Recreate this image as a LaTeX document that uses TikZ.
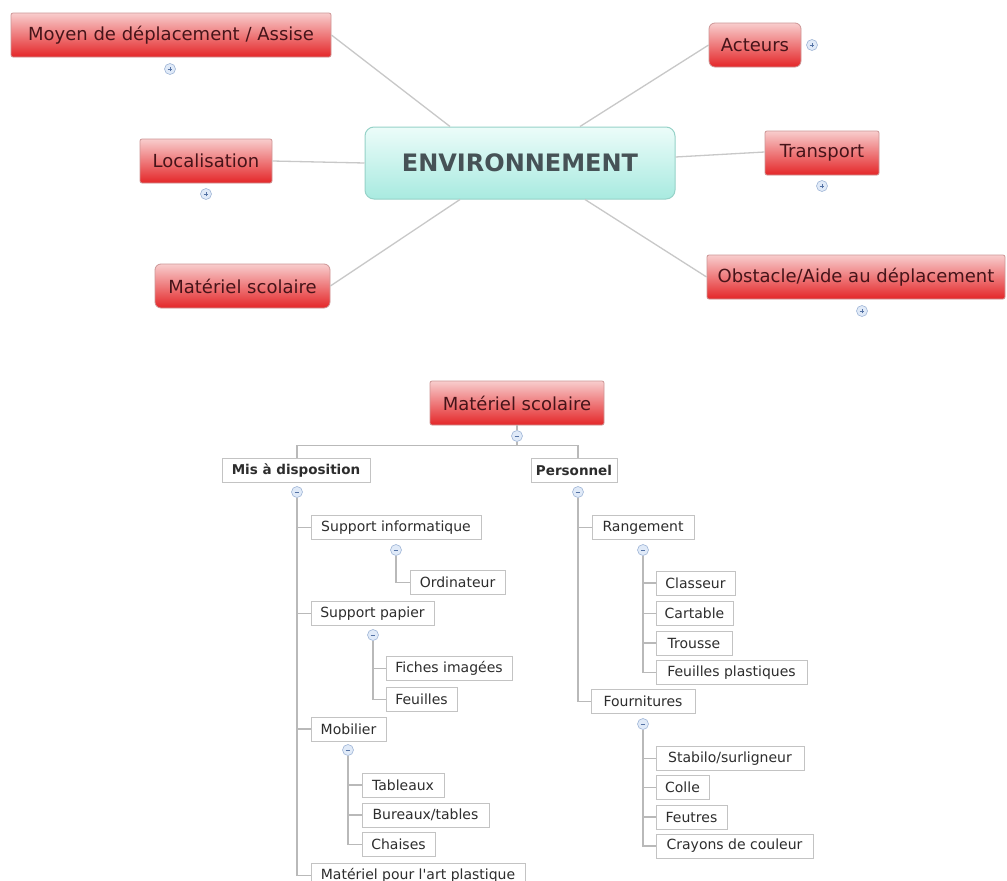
\documentclass[tikz,border=0pt]{standalone}
\usepackage{fontspec}
\setmainfont{DejaVu Sans}
\definecolor{redtop}{RGB}{248,205,205}
\definecolor{redbot}{RGB}{228,38,40}
\definecolor{redline}{RGB}{205,150,150}
\definecolor{redtext}{RGB}{70,20,25}
\definecolor{teatop}{RGB}{236,252,249}
\definecolor{teabot}{RGB}{168,234,224}
\definecolor{tealine}{RGB}{150,210,200}
\definecolor{envtext}{RGB}{70,82,86}
\definecolor{conn}{RGB}{200,200,200}
\definecolor{treeline}{RGB}{185,185,185}
\definecolor{treeborder}{RGB}{195,195,195}
\definecolor{treetext}{RGB}{45,45,45}
\definecolor{tglfill}{RGB}{224,234,248}
\definecolor{tgldraw}{RGB}{160,182,215}
\definecolor{tglsym}{RGB}{85,115,165}
\tikzset{
  redbox/.style={draw=redline, top color=redtop, bottom color=redbot, text=redtext,
    font=\fontsize{18}{18}\selectfont, inner sep=0pt, rounded corners=2pt, line width=0.8pt},
  envbox/.style={draw=tealine, top color=teatop, bottom color=teabot, text=envtext,
    font=\fontsize{24}{24}\selectfont\bfseries, inner sep=0pt, rounded corners=9pt, line width=1pt,
    minimum width=310pt, minimum height=72pt},
  treebox/.style={draw=treeborder, fill=white, text=treetext, font=\fontsize{14}{14}\selectfont,
    inner sep=0pt, minimum height=24pt, line width=0.8pt},
  boldbox/.style={treebox, font=\fontsize{13.5}{13.5}\selectfont\bfseries},
  tgl/.style={circle, draw=tgldraw, fill=tglfill, minimum size=11pt, inner sep=0pt, line width=0.6pt},
  conline/.style={draw=conn, line width=1.3pt},
  tline/.style={draw=treeline, line width=1.1pt},
}
\newcommand{\plussym}[1]{\draw[tglsym, line width=0.6pt] ([xshift=-2.4pt]#1.center) -- ([xshift=2.4pt]#1.center) ([yshift=-2.4pt]#1.center) -- ([yshift=2.4pt]#1.center);}
\newcommand{\minussym}[1]{\draw[tglsym, line width=0.6pt] ([xshift=-2.4pt]#1.center) -- ([xshift=2.4pt]#1.center);}
\begin{document}
\begin{tikzpicture}[x=1pt,y=-1pt]
\useasboundingbox[fill=white] (0,0) rectangle (1007,881);
% ---------- top mind map ----------
\node[envbox] (env) at (520,163) {ENVIRONNEMENT};
\node[redbox, minimum width=320pt, minimum height=44pt] (moyen) at (171,35) {Moyen de déplacement / Assise};
\node[redbox, rounded corners=6pt, minimum width=92pt, minimum height=44pt] (act) at (755,45) {Acteurs};
\node[redbox, minimum width=132pt, minimum height=44pt] (loc) at (206,161) {Localisation};
\node[redbox, minimum width=114pt, minimum height=44pt] (trans) at (822,153) {Transport};
\node[redbox, rounded corners=6pt, minimum width=175pt, minimum height=44pt] (matt) at (242.5,286) {Matériel scolaire};
\node[redbox, minimum width=298pt, minimum height=44pt] (obst) at (856,277) {Obstacle/Aide au déplacement};
\path[conline] (moyen.east) -- ([xshift=-70pt]env.north);
\path[conline] (act.west) -- ([xshift=60pt]env.north);
\path[conline] (loc.east) -- (env.west);
\path[conline] ([yshift=6pt]env.east) -- ([yshift=1pt]trans.west);
\path[conline] (matt.east) -- ([xshift=-60pt]env.south);
\path[conline] (obst.west) -- ([xshift=65pt]env.south);
\node[tgl] (pm) at (170,69) {}; \plussym{pm}
\node[tgl] (pa) at (812,45) {}; \plussym{pa}
\node[tgl] (pl) at (206,194) {}; \plussym{pl}
\node[tgl] (pt) at (822,186) {}; \plussym{pt}
\node[tgl] (po) at (862,311) {}; \plussym{po}
% ---------- bottom tree ----------
\node[redbox, minimum width=174pt, minimum height=44pt] (matb) at (517,403) {Matériel scolaire};
\node[boldbox, minimum width=148pt] (mis) at (296,470.5) {Mis à disposition};
\node[boldbox, minimum width=86pt] (pers) at (574,470.5) {Personnel};
\node[tgl] (m0) at (517,436) {};
\node[tgl] (m1) at (297,492) {};
\node[tgl] (m2) at (578,492) {};
% left branch
\node[treebox, minimum width=170pt] (si) at (396,527.5) {Support informatique};
\node[treebox, minimum width=95pt] (ordi) at (457.5,582.5) {Ordinateur};
\node[treebox, minimum width=123pt] (sp) at (372.5,613.5) {Support papier};
\node[treebox, minimum width=126pt] (fich) at (449,668.5) {Fiches imagées};
\node[treebox, minimum width=71pt] (feu) at (421.5,699.5) {Feuilles};
\node[treebox, minimum width=75pt] (mob) at (348.5,729) {Mobilier};
\node[treebox, minimum width=82pt] (tab) at (403,785) {Tableaux};
\node[treebox, minimum width=127pt] (bur) at (425.5,815) {Bureaux/tables};
\node[treebox, minimum width=73pt] (chai) at (398.5,844.5) {Chaises};
\node[treebox, minimum width=214pt] (art) at (418,875.5) {Matériel pour l\textquotesingle art plastique};
\node[tgl] (m3) at (396,550) {};
\node[tgl] (m4) at (373,635) {};
\node[tgl] (m5) at (348,750) {};
% right branch
\node[treebox, minimum width=102pt] (rang) at (643,527.5) {Rangement};
\node[treebox, minimum width=79pt] (clas) at (695.5,583) {Classeur};
\node[treebox, minimum width=77pt] (cart) at (694.5,613.5) {Cartable};
\node[treebox, minimum width=76pt] (trou) at (694,643) {Trousse};
\node[treebox, minimum width=151pt] (fpl) at (731.5,672.5) {Feuilles plastiques};
\node[treebox, minimum width=104pt] (four) at (643,701.5) {Fournitures};
\node[treebox, minimum width=148pt] (stab) at (730,758.5) {Stabilo/surligneur};
\node[treebox, minimum width=53pt] (coll) at (682.5,787.5) {Colle};
\node[treebox, minimum width=71pt] (feut) at (691.5,817) {Feutres};
\node[treebox, minimum width=157pt] (cray) at (734.5,846) {Crayons de couleur};
\node[tgl] (m6) at (643,550) {};
\node[tgl] (m7) at (643,724) {};
% connectors
\path[tline] (matb.south) -- (m0.north);
\path[tline] (m0.south) -- ++(0,4) -| ([xshift=1pt]mis.north);
\path[tline] (m0.south) -- ++(0,4) -| ([xshift=4pt]pers.north);
\path[tline] (m1.south) |- (si.west);
\path[tline] (m1.south) |- (sp.west);
\path[tline] (m1.south) |- (mob.west);
\path[tline] (m1.south) |- (art.west);
\path[tline] (m3.south) |- (ordi.west);
\path[tline] (m4.south) |- (fich.west);
\path[tline] (m4.south) |- (feu.west);
\path[tline] (m5.south) |- (tab.west);
\path[tline] (m5.south) |- (bur.west);
\path[tline] (m5.south) |- (chai.west);
\path[tline] (m2.south) |- (rang.west);
\path[tline] (m2.south) |- (four.west);
\path[tline] (m6.south) |- (clas.west);
\path[tline] (m6.south) |- (cart.west);
\path[tline] (m6.south) |- (trou.west);
\path[tline] (m6.south) |- (fpl.west);
\path[tline] (m7.south) |- (stab.west);
\path[tline] (m7.south) |- (coll.west);
\path[tline] (m7.south) |- (feut.west);
\path[tline] (m7.south) |- (cray.west);
\foreach \m in {m0,m1,m2,m3,m4,m5,m6,m7} {\minussym{\m}}
\end{tikzpicture}
\end{document}
